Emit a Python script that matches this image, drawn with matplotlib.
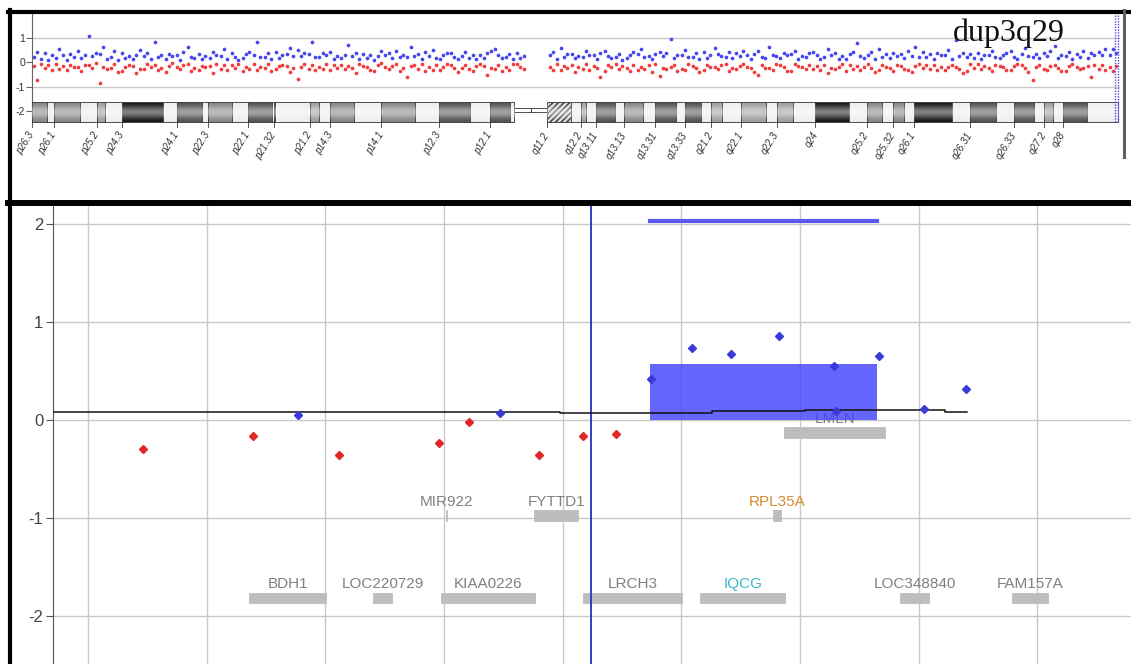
import numpy as np
import matplotlib
matplotlib.use("Agg")
import matplotlib.pyplot as plt
from matplotlib.patches import Rectangle
from matplotlib.lines import Line2D
from matplotlib.ticker import MultipleLocator

plt.rcParams['font.family'] = ['Liberation Sans', 'DejaVu Sans']

# ---------------- chromosome 3 overview (top panel) ----------------
# probe windows along chr3 (Mb), three gain and three loss log2 ratios per window
window_mb = [1, 3, 5, 7, 9, 11, 13, 15, 17, 19, 21, 23, 25, 27, 29, 31, 33, 35, 37, 39,
             41, 43, 45, 47, 49, 51, 53, 55, 57, 59, 61, 63, 65, 67, 69, 71, 73, 75, 77, 79,
             81, 83, 85, 87, 89, 95, 97, 99, 101, 103, 105, 107, 109, 111, 113, 115, 117, 119,
             121, 123, 125, 127, 129, 131, 133, 135, 137, 139, 141, 143, 145, 147, 149, 151,
             153, 155, 157, 159, 161, 163, 165, 167, 169, 171, 173, 175, 177, 179, 181, 183,
             185, 187, 189, 191, 193, 195, 197]

gain_log2 = [
    (0.22, 0.41, 0.12), (0.35, 0.08, 0.27), (0.18, 0.52, 0.30), (0.10, 0.33, 0.21), (0.44, 0.15, 0.28),
    (1.05, 0.24, 0.37), (0.31, 0.62, 0.14), (0.20, 0.45, 0.09), (0.38, 0.17, 0.26), (0.12, 0.30, 0.48),
    (0.25, 0.36, 0.11), (0.80, 0.19, 0.29), (0.14, 0.34, 0.23), (0.27, 0.09, 0.40), (0.62, 0.21, 0.16),
    (0.33, 0.12, 0.25), (0.18, 0.40, 0.29), (0.24, 0.55, 0.13), (0.36, 0.20, 0.10), (0.15, 0.31, 0.42),
    (0.29, 0.82, 0.19), (0.22, 0.35, 0.14), (0.40, 0.18, 0.30), (0.33, 0.58, 0.24), (0.47, 0.26, 0.38),
    (0.31, 0.83, 0.21), (0.19, 0.36, 0.28), (0.42, 0.12, 0.25), (0.16, 0.30, 0.71), (0.23, 0.38, 0.11),
    (0.34, 0.15, 0.27), (0.10, 0.26, 0.44), (0.28, 0.37, 0.17), (0.45, 0.21, 0.30), (0.19, 0.60, 0.25),
    (0.32, 0.14, 0.39), (0.26, 0.48, 0.18), (0.13, 0.29, 0.35), (0.37, 0.22, 0.11), (0.24, 0.41, 0.16),
    (0.30, 0.12, 0.27), (0.18, 0.35, 0.43), (0.52, 0.27, 0.15), (0.21, 0.33, 0.12), (0.36, 0.18, 0.26),
    (0.27, 0.40, 0.14), (0.58, 0.22, 0.31), (0.34, 0.17, 0.25), (0.19, 0.43, 0.29), (0.30, 0.13, 0.37),
    (0.46, 0.25, 0.16), (0.22, 0.34, 0.10), (0.15, 0.29, 0.39), (0.33, 0.52, 0.21), (0.26, 0.14, 0.31),
    (0.41, 0.23, 0.35), (0.95, 0.18, 0.28), (0.30, 0.47, 0.20), (0.22, 0.36, 0.13), (0.39, 0.16, 0.27),
    (0.58, 0.31, 0.24), (0.20, 0.40, 0.15), (0.35, 0.26, 0.44), (0.28, 0.12, 0.32), (0.44, 0.21, 0.17),
    (0.63, 0.30, 0.23), (0.17, 0.38, 0.27), (0.31, 0.46, 0.12), (0.24, 0.19, 0.35), (0.40, 0.28, 0.13),
    (0.21, 0.55, 0.30), (0.36, 0.14, 0.24), (0.12, 0.33, 0.42), (0.78, 0.25, 0.18), (0.29, 0.41, 0.14),
    (0.52, 0.20, 0.33), (0.18, 0.37, 0.26), (0.34, 0.15, 0.45), (0.25, 0.62, 0.19), (0.40, 0.22, 0.31),
    (0.14, 0.35, 0.27), (0.30, 0.48, 0.11), (0.88, 0.24, 0.36), (0.21, 0.32, 0.16), (0.37, 0.13, 0.28),
    (0.27, 0.44, 0.20), (0.16, 0.29, 0.38), (0.43, 0.22, 0.12), (0.31, 0.57, 0.25), (0.20, 0.34, 0.15),
    (0.38, 0.26, 0.46), (0.65, 0.18, 0.30), (0.24, 0.39, 0.14), (0.33, 0.21, 0.43), (0.18, 0.36, 0.27),
    (0.41, 0.28, 0.52), (0.30, 0.55, 0.37)]

loss_log2 = [
    (-0.18, -0.72, -0.09), (-0.25, -0.12, -0.33), (-0.08, -0.29, -0.17), (-0.31, -0.14, -0.22), (-0.20, -0.38, -0.11),
    (-0.13, -0.26, -0.05), (-0.85, -0.19, -0.30), (-0.24, -0.10, -0.41), (-0.35, -0.21, -0.12), (-0.16, -0.46, -0.27),
    (-0.29, -0.08, -0.19), (-0.11, -0.33, -0.23), (-0.40, -0.17, -0.06), (-0.22, -0.28, -0.14), (-0.09, -0.36, -0.25),
    (-0.31, -0.15, -0.20), (-0.18, -0.43, -0.10), (-0.27, -0.12, -0.34), (-0.14, -0.24, -0.07), (-0.36, -0.19, -0.29),
    (-0.10, -0.31, -0.21), (-0.23, -0.08, -0.38), (-0.30, -0.17, -0.12), (-0.15, -0.39, -0.26), (-0.68, -0.22, -0.09),
    (-0.27, -0.13, -0.33), (-0.19, -0.30, -0.08), (-0.34, -0.11, -0.24), (-0.12, -0.27, -0.16), (-0.25, -0.44, -0.09),
    (-0.17, -0.21, -0.32), (-0.38, -0.14, -0.06), (-0.22, -0.29, -0.18), (-0.10, -0.35, -0.26), (-0.61, -0.16, -0.12),
    (-0.28, -0.09, -0.37), (-0.19, -0.32, -0.14), (-0.33, -0.20, -0.07), (-0.13, -0.26, -0.41), (-0.24, -0.11, -0.30),
    (-0.36, -0.18, -0.09), (-0.15, -0.54, -0.23), (-0.27, -0.12, -0.35), (-0.20, -0.31, -0.10), (-0.09, -0.22, -0.28),
    (-0.21, -0.34, -0.07), (-0.32, -0.15, -0.26), (-0.12, -0.40, -0.19), (-0.28, -0.10, -0.33), (-0.18, -0.25, -0.62),
    (-0.37, -0.14, -0.22), (-0.08, -0.29, -0.17), (-0.24, -0.36, -0.11), (-0.31, -0.19, -0.27), (-0.14, -0.42, -0.08),
    (-0.58, -0.23, -0.30), (-0.20, -0.12, -0.35), (-0.27, -0.33, -0.09), (-0.16, -0.24, -0.39), (-0.34, -0.11, -0.21),
    (-0.22, -0.30, -0.13), (-0.10, -0.37, -0.25), (-0.29, -0.17, -0.08), (-0.19, -0.26, -0.41), (-0.52, -0.14, -0.23),
    (-0.25, -0.32, -0.10), (-0.13, -0.21, -0.36), (-0.38, -0.09, -0.18), (-0.21, -0.29, -0.12), (-0.30, -0.16, -0.34),
    (-0.11, -0.43, -0.24), (-0.27, -0.19, -0.07), (-0.35, -0.12, -0.28), (-0.17, -0.31, -0.22), (-0.09, -0.25, -0.39),
    (-0.33, -0.14, -0.20), (-0.23, -0.37, -0.11), (-0.15, -0.28, -0.32), (-0.40, -0.18, -0.08), (-0.26, -0.12, -0.30),
    (-0.12, -0.34, -0.21), (-0.31, -0.20, -0.13), (-0.19, -0.27, -0.44), (-0.36, -0.10, -0.23), (-0.08, -0.29, -0.17),
    (-0.25, -0.38, -0.12), (-0.18, -0.22, -0.31), (-0.32, -0.15, -0.09), (-0.14, -0.26, -0.40), (-0.72, -0.19, -0.11),
    (-0.29, -0.33, -0.16), (-0.11, -0.24, -0.35), (-0.37, -0.18, -0.07), (-0.20, -0.30, -0.25), (-0.15, -0.62, -0.13),
    (-0.28, -0.11, -0.33), (-0.22, -0.35, -0.18)]

# cytobands of chr3 (Mb)
band_names = ['p26.3', 'p26.2', 'p26.1', 'p25.3', 'p25.2', 'p25.1', 'p24.3', 'p24.2', 'p24.1', 'p23',
              'p22.3', 'p22.2', 'p22.1', 'p21.33', 'p21.32', 'p21.31', 'p21.2', 'p21.1', 'p14.3', 'p14.2',
              'p14.1', 'p13', 'p12.3', 'p12.2', 'p12.1', 'p11.2', 'p11.1', 'q11.1', 'q11.2', 'q12.1',
              'q12.2', 'q12.3', 'q13.11', 'q13.12', 'q13.13', 'q13.2', 'q13.31', 'q13.32', 'q13.33', 'q21.1',
              'q21.2', 'q21.3', 'q22.1', 'q22.2', 'q22.3', 'q23', 'q24', 'q25.1', 'q25.2', 'q25.31',
              'q25.32', 'q25.33', 'q26.1', 'q26.2', 'q26.31', 'q26.32', 'q26.33', 'q27.1', 'q27.2', 'q27.3',
              'q28', 'q29']
band_start = [0.0, 2.8, 4.0, 8.7, 11.8, 13.3, 16.4, 23.9, 26.4, 30.9,
              32.1, 36.5, 39.4, 43.7, 44.1, 44.2, 50.6, 52.3, 54.4, 58.6,
              63.7, 69.8, 74.2, 79.8, 83.5, 87.2, 87.9, 91.0, 93.9, 98.3,
              100.0, 100.9, 102.8, 106.2, 107.9, 111.3, 113.5, 117.3, 119.0, 121.9,
              123.8, 125.8, 129.2, 133.7, 135.7, 138.7, 142.8, 148.9, 152.1, 155.0,
              157.0, 159.0, 160.7, 167.6, 170.9, 175.7, 179.0, 182.7, 184.5, 186.0,
              187.9, 192.3]
band_end = band_start[1:] + [198.0]
band_stain = ['gpos50', 'gneg', 'gpos50', 'gneg', 'gpos25', 'gneg', 'gpos100', 'gneg', 'gpos75', 'gneg',
              'gpos50', 'gneg', 'gpos75', 'gneg', 'gpos50', 'gneg', 'gpos25', 'gneg', 'gpos50', 'gneg',
              'gpos50', 'gneg', 'gpos75', 'gneg', 'gpos75', 'gneg', 'acen', 'acen', 'gvar', 'gneg',
              'gpos25', 'gneg', 'gpos75', 'gneg', 'gpos50', 'gneg', 'gpos75', 'gneg', 'gpos75', 'gneg',
              'gpos25', 'gneg', 'gpos25', 'gneg', 'gpos25', 'gneg', 'gpos100', 'gneg', 'gpos50', 'gneg',
              'gpos50', 'gneg', 'gpos100', 'gneg', 'gpos75', 'gneg', 'gpos75', 'gneg', 'gpos25', 'gneg',
              'gpos75', 'gneg']
stain_color = {'gneg': '#eeeeee', 'gpos25': '#a0a0a0', 'gpos50': '#888888',
               'gpos75': '#555555', 'gpos100': '#1a1a1a', 'gvar': '#d8d8d8', 'acen': '#ffffff'}
selection_mb = [197.45, 198.0]

# ---------------- 3q29 zoom (bottom panel) ----------------
loss_probe_mb = [197.1464, 197.2391, 197.3116, 197.3960, 197.4213, 197.4803, 197.5174, 197.5452]
loss_probe_val = [-0.30, -0.16, -0.36, -0.24, -0.02, -0.36, -0.16, -0.14]
gain_probe_mb = [197.2771, 197.4474, 197.5747, 197.6093, 197.6422, 197.6826, 197.7290, 197.7307,
                 197.7670, 197.8049, 197.8403]
gain_probe_val = [0.05, 0.07, 0.42, 0.74, 0.67, 0.86, 0.55, 0.09, 0.65, 0.11, 0.32]

avg_mb = [197.0705, 197.498, 197.626, 197.7046, 197.8226, 197.841]
avg_val = [0.085, 0.075, 0.088, 0.100, 0.083, 0.083]

dup_start, dup_end = 197.5734, 197.765
dup_log2 = 0.57
call_level = 2.03
cursor_mb = 197.5236

gene_names = ['BDH1', 'LOC220729', 'KIAA0226', 'LRCH3', 'IQCG', 'LOC348840', 'FAM157A',
              'MIR922', 'FYTTD1', 'RPL35A', 'LMLN']
gene_start = [197.2358, 197.3403, 197.3976, 197.5174, 197.6160, 197.7847, 197.8791,
              197.4015, 197.4761, 197.6776, 197.6869]
gene_end = [197.3007, 197.3563, 197.4769, 197.6008, 197.6877, 197.8091, 197.9094,
            197.4022, 197.5132, 197.6843, 197.7720]
gene_track = [-1.82, -1.82, -1.82, -1.82, -1.82, -1.82, -1.82, -0.98, -0.98, -0.98, -0.13]
gene_color = ['#808080', '#808080', '#808080', '#808080', '#3cb6c6', '#808080', '#808080',
              '#808080', '#808080', '#d88a2c', '#808080']

W, H = 1131, 664


def px_rect(x0, y0, x1, y1):
    return [x0 / W, 1 - y1 / H, (x1 - x0) / W, (y1 - y0) / H]


fig = plt.figure(figsize=(W / 100, H / 100), dpi=100)

# ---- top panel ----
top = fig.add_axes(px_rect(32, 13, 1120, 125))
top.set_xlim(0, 198.3)
top.set_ylim(-2.571, 2.0)
for s in ['top', 'right', 'bottom']:
    top.spines[s].set_visible(False)
top.spines['left'].set_color('#666666')
top.set_xticks([])
top.set_yticks([1, 0, -1, -2])
top.set_yticklabels(['1', '0', '-1', '-2'])
top.tick_params(axis='y', labelsize=7.5, length=4, color='#666666', labelcolor='#333333', pad=1)
top.axhline(1, color='#c8c8c8', lw=1, zorder=0)
top.axhline(-1, color='#c8c8c8', lw=1, zorder=0)

offsets = np.array([-0.6, 0.0, 0.6])
wx = np.repeat(np.array(window_mb, dtype=float), 3) + np.tile(offsets, len(window_mb))
top.scatter(wx, np.array(gain_log2).ravel(), s=7, color='#4646f0', lw=0, zorder=2)
top.scatter(wx, np.array(loss_log2).ravel(), s=7, color='#f03c3c', lw=0, zorder=2)

ideo_lo, ideo_h = -2.449, 0.816
for name, s, e, st in zip(band_names, band_start, band_end, band_stain):
    if st == 'acen':
        top.add_patch(Rectangle((s, -2.04), e - s, 0.16, facecolor='white',
                                edgecolor='#333333', lw=0.6, zorder=3))
        continue
    hatch = '//////' if st == 'gvar' else None
    top.add_patch(Rectangle((s, ideo_lo), e - s, ideo_h, facecolor=stain_color[st],
                            edgecolor='#333333', lw=0.6, hatch=hatch, zorder=3))
    if st != 'gneg':
        top.plot([s, s], [ideo_lo, ideo_lo - 0.2], color='#555555', lw=0.7, clip_on=False)
        top.text(s, ideo_lo - 0.45, name, rotation=58, rotation_mode='anchor',
                 ha='right', va='center', fontsize=7, style='italic', color='#333333',
                 clip_on=False)

# light sheen across the ideogram, as in the glossy band drawing
sheen = np.zeros((40, 1, 4))
sheen[..., :3] = 1.0
sheen[:, 0, 3] = 0.45 * np.sin(np.linspace(0, np.pi, 40)) ** 2
top.imshow(sheen, extent=(0, 87.9, ideo_lo, ideo_lo + ideo_h), aspect='auto', zorder=3.5,
           interpolation='bilinear')
top.imshow(sheen, extent=(93.9, 198.0, ideo_lo, ideo_lo + ideo_h), aspect='auto', zorder=3.5,
           interpolation='bilinear')
top.set_xlim(0, 198.3)
top.set_ylim(-2.571, 2.0)

for xm in selection_mb:
    top.plot([xm, xm], [ideo_lo, 2.0], color='#4a4ae0', lw=1, ls=(0, (1, 1)), zorder=4)

fig.text(953 / W, 1 - 41 / H, 'dup3q29', family='Liberation Serif', fontsize=23,
         ha='left', va='baseline', color='#111111')

# ---- bottom panel ----
ax = fig.add_axes(px_rect(53, 205, 1131, 664))
ax.set_xlim(197.0705, 197.979)
ax.set_ylim(-2.495, 2.198)
for s in ['top', 'right', 'bottom']:
    ax.spines[s].set_visible(False)
ax.spines['left'].set_color('#555555')
ax.xaxis.set_major_locator(MultipleLocator(0.1))
ax.set_yticks([2, 1, 0, -1, -2])
ax.set_yticklabels(['2', '1', '0', '-1', '-2'])
ax.tick_params(axis='x', length=0, labelbottom=False)
ax.tick_params(axis='y', labelsize=12, length=5, color='#555555', labelcolor='#444444', pad=2)
ax.grid(color='#c8c8c8', lw=1)
ax.set_axisbelow(True)

for name, s, e, y, c in zip(gene_names, gene_start, gene_end, gene_track, gene_color):
    ax.add_patch(Rectangle((s, y - 0.055), e - s, 0.11, facecolor='#bdbdbd',
                           edgecolor='#bdbdbd', lw=0.6, zorder=2))
    ax.text((s + e) / 2, y + 0.14, name, ha='center', va='center', fontsize=11,
            color=c, zorder=2)

ax.add_patch(Rectangle((dup_start, 0), dup_end - dup_start, dup_log2,
                       facecolor='#4040ff', alpha=0.8, lw=0, zorder=3))
ax.plot([dup_start, dup_end], [call_level, call_level], color='#5a5af0', lw=3, zorder=3)
ax.axvline(cursor_mb, color='#3a3acc', lw=1.4, zorder=3)
ax.plot(avg_mb, avg_val, drawstyle='steps-post', color='#111111', lw=1.1, zorder=4)

ax.plot(loss_probe_mb, loss_probe_val, 'D', ms=4.5, color='#e02828', mec='#e02828', zorder=5)
ax.plot(gain_probe_mb, gain_probe_val, 'D', ms=4.5, color='#3a3ad8', mec='#3a3ad8', zorder=5)

# ---- frame lines ----
fig.add_artist(Line2D([8 / W, 1], [1 - 11.5 / H] * 2, color='black', lw=3, transform=fig.transFigure))
fig.add_artist(Line2D([10 / W] * 2, [0, 1 - 10 / H], color='black', lw=3, transform=fig.transFigure))
fig.add_artist(Line2D([8 / W, 1], [1 - 202.5 / H] * 2, color='black', lw=4.3, transform=fig.transFigure))
fig.add_artist(Line2D([1123.5 / W] * 2, [1 - 157 / H, 1 - 10 / H], color='#606060', lw=2.2,
                      transform=fig.transFigure))

fig.savefig('out.png', dpi=100)
